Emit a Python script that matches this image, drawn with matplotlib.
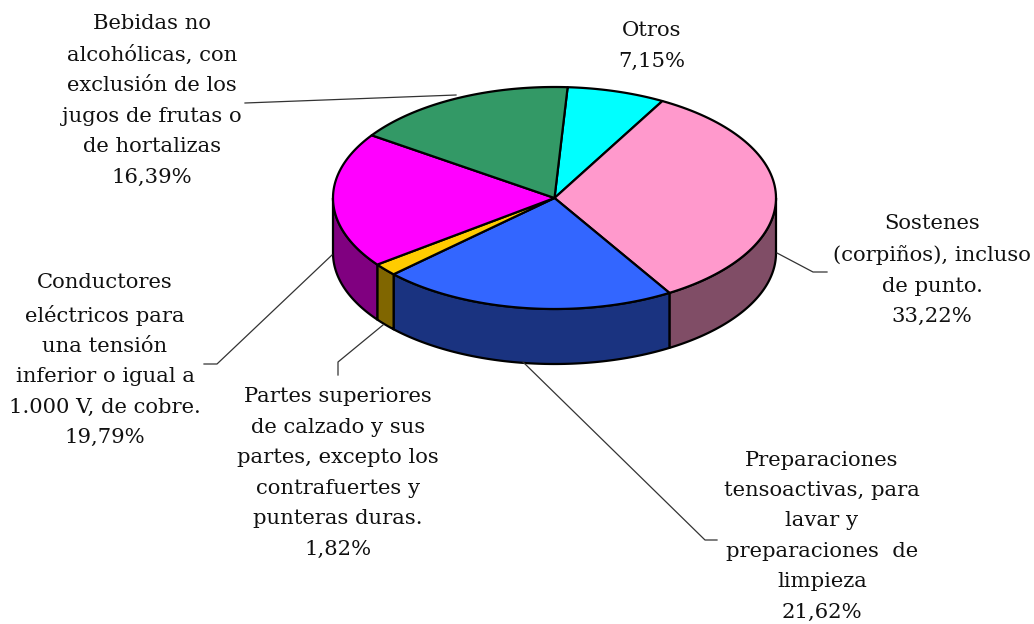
import numpy as np
import matplotlib
matplotlib.use("Agg")
import matplotlib.pyplot as plt
from matplotlib.patches import Polygon

matplotlib.rcParams.update({'font.family': 'DejaVu Serif', 'font.size': 15.2})

# data (clockwise from the top)
labels = ["Otros",
          "Sostenes\n(corpiños), incluso\nde punto.",
          "Preparaciones\ntensoactivas, para\nlavar y\npreparaciones  de\nlimpieza",
          "Partes superiores\nde calzado y sus\npartes, excepto los\ncontrafuertes y\npunteras duras.",
          "Conductores\neléctricos para\nuna tensión\ninferior o igual a\n1.000 V, de cobre.",
          "Bebidas no\nalcohólicas, con\nexclusión de los\njugos de frutas o\nde hortalizas"]
values = [7.15, 33.22, 21.62, 1.82, 19.79, 16.39]
top_colors = ["#00FFFF", "#FF99CC", "#3366FF", "#FFCC00", "#FF00FF", "#339966"]

# label placement (pixel coords) and leader lines
label_pos = [(652, 46), (932, 270), (822, 536), (338, 473), (105, 360), (152, 100)]
leaders = [None,
           [(777, 253), (813, 272), (827, 272)],
           [(523, 362), (705, 540), (717, 540)],
           [(383, 325), (338, 362), (338, 375)],
           [(332, 255), (217, 364), (204, 364)],
           [(456, 95), (245, 103)]]

# pie geometry in pixels
cx, cy = 554.5, 198
rx, ry = 221.5, 111
depth = 55
start = 3.4  # degrees clockwise from top

W, H = 1034, 624
fig = plt.figure(figsize=(W / 100, H / 100), dpi=100)
ax = fig.add_axes([0, 0, 1, 1])
ax.set_xlim(0, W)
ax.set_ylim(H, 0)
ax.axis("off")


def arc(a0, a1, dy=0, n=80):
    t = np.radians(np.linspace(a0, a1, n))
    return np.column_stack([cx + rx * np.sin(t), cy - ry * np.cos(t) + dy])


def darker(c):
    rgb = np.array(matplotlib.colors.to_rgb(c))
    return tuple(rgb * 0.5)


bounds = start + np.concatenate([[0], np.cumsum(values)]) * 360 / sum(values)

# side walls (front half only)
for i, c in enumerate(top_colors):
    a0, a1 = max(bounds[i], 90), min(bounds[i + 1], 270)
    if a1 <= a0:
        continue
    pts = np.vstack([arc(a0, a1), arc(a0, a1, depth)[::-1]])
    ax.add_patch(Polygon(pts, closed=True, facecolor=darker(c),
                         edgecolor="black", linewidth=1.6, joinstyle="round"))

# top faces
for i, c in enumerate(top_colors):
    pts = np.vstack([[cx, cy], arc(bounds[i], bounds[i + 1])])
    ax.add_patch(Polygon(pts, closed=True, facecolor=c,
                         edgecolor="black", linewidth=1.6, joinstyle="round"))

# labels and leader lines
for lab, v, (x, y), ld in zip(labels, values, label_pos, leaders):
    txt = lab + "\n" + f"{v:.2f}".replace(".", ",") + "%"
    ax.text(x, y, txt, ha="center", va="center", multialignment="center",
            linespacing=1.76, color="#111111")
    if ld is not None:
        xs, ys = zip(*ld)
        ax.plot(xs, ys, color="#333333", linewidth=0.9)

fig.savefig("out.png", dpi=100)
